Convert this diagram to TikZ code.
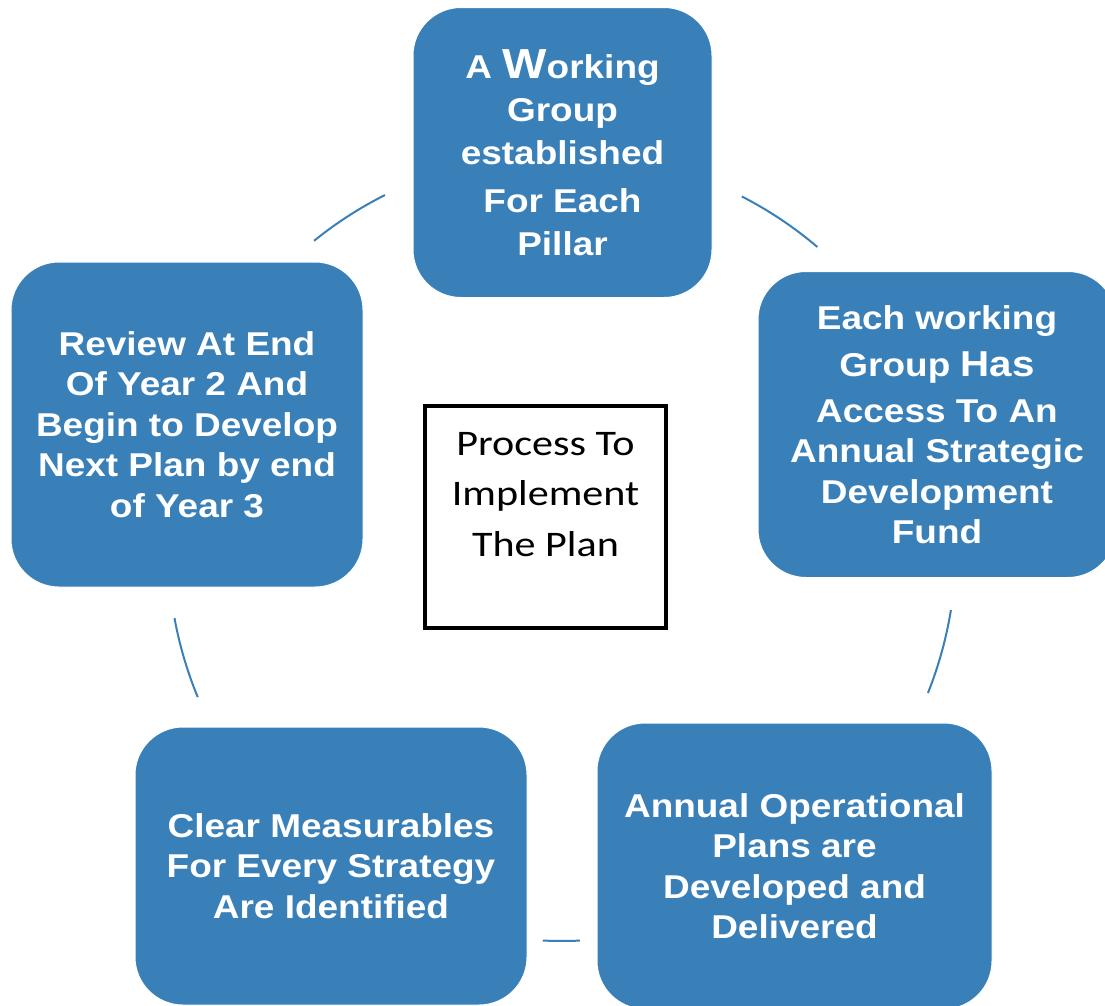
\documentclass[tikz,border=0pt]{standalone}
\usepackage{fontspec}
\newfontfamily\cardfont{Liberation Sans}[FakeStretch=1.12]
\newfontfamily\hubfont{Carlito}[FakeStretch=1.17]
\definecolor{cardblue}{RGB}{57,128,185}
\begin{document}
\begin{tikzpicture}[x=1pt,y=-1pt,
  card/.style={rectangle, rounded corners=48pt, fill=cardblue, draw=white,
    line width=1pt, text=white, align=center, inner sep=0pt,
    font=\cardfont\bfseries\fontsize{33}{40.5}\selectfont},
  ringarc/.style={draw=cardblue, line width=2pt},
  hubbox/.style={rectangle, draw=black, line width=4pt, minimum width=241pt,
    minimum height=222pt, inner sep=0pt},
  hubtext/.style={align=center, inner sep=0pt, anchor=north,
    font=\hubfont\fontsize{36}{50.5}\selectfont}]
\useasboundingbox (0,0) rectangle (1105,1005);

% centre of the cycle ring
\coordinate (ring) at (562,547);

% the five steps of the cycle
\node[card, minimum width=299pt, minimum height=290pt,
      font=\cardfont\bfseries\fontsize{33}{43}\selectfont] (group) at (562.5,152.5)
  {A {\fontsize{42}{43}\selectfont W}orking\\ Group\\ established\\[5pt]
   For Each\\ Pillar};
\node[card, minimum width=358pt, minimum height=306pt] (fund) at (937,424.5)
  {Each working\\[7pt] Group {\fontsize{36}{40}\selectfont Has}\\[5pt] Access To An\\
   Annual Strategic\\ Development\\ Fund};
\node[card, minimum width=395pt, minimum height=286pt] (ops) at (794.5,866)
  {Annual Operational\\ Plans are\\ Developed and\\ Delivered};
\node[card, minimum width=392pt, minimum height=278pt] (measure) at (331,866)
  {Clear Measurables\\ For Every Strategy\\ Are Identified};
\node[card, minimum width=352pt, minimum height=325pt] (review) at (187,424.5)
  {Review At End\\ Of Year 2 And\\ Begin to Develop\\ Next Plan by end\\ of Year 3};

% arcs of the ring between neighbouring steps
\draw[ringarc] ([shift={(62.85:394pt)}]ring) arc[start angle=62.85, end angle=49.6, radius=394pt];
\draw[ringarc] ([shift={(-9.2:394pt)}]ring) arc[start angle=-9.2, end angle=-21.75, radius=394pt];
\draw[ringarc] ([shift={(-87.4:394pt)}]ring) arc[start angle=-87.4, end angle=-92.8, radius=394pt];
\draw[ringarc] ([shift={(202.4:394pt)}]ring) arc[start angle=202.4, end angle=190.4, radius=394pt];
\draw[ringarc] ([shift={(129.0:394pt)}]ring) arc[start angle=129.0, end angle=116.7, radius=394pt];

% title box in the middle
\node[hubbox] (hub) at (545.5,517) {};
\node[hubtext] (hubtitle) at (545.5,432) {Process To\\ Implement\\ The Plan};
\end{tikzpicture}
\end{document}
